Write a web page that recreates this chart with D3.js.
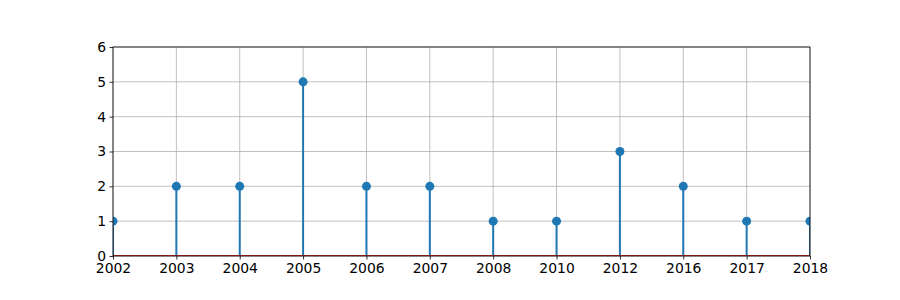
<!DOCTYPE html>
<html>
<head>
<meta charset="utf-8">
<script src="https://cdn.jsdelivr.net/npm/d3@7"></script>
<style>
body { margin: 0; background: #fff; }
text { font-family: "DejaVu Sans", sans-serif; }
</style>
</head>
<body>
<script>
var years = ["2002", "2003", "2004", "2005", "2006", "2007", "2008", "2010", "2012", "2016", "2017", "2018"];
var counts = [1, 2, 2, 5, 2, 2, 1, 1, 3, 2, 1, 1];
var yTicks = [0, 1, 2, 3, 4, 5, 6];

var w = 900, h = 300;
var padLeft = 113, padRight = 810, padTop = 47, padBottom = 256;

var svg = d3.select("body").append("svg")
  .attr("width", w)
  .attr("height", h);

var x = d3.scaleLinear().domain([0, years.length - 1]).range([padLeft, padRight]);
var y = d3.scaleLinear().domain([0, 6]).range([padBottom, padTop]);

svg.append("clipPath").attr("id", "plotclip")
  .append("rect")
  .attr("x", padLeft).attr("y", padTop)
  .attr("width", padRight - padLeft).attr("height", padBottom - padTop);

// grid
var grid = svg.append("g");
grid.selectAll("line.gx")
  .data(years)
  .enter().append("line")
  .attr("class", "gx")
  .attr("x1", function(d, i) { return x(i); })
  .attr("x2", function(d, i) { return x(i); })
  .attr("y1", padTop).attr("y2", padBottom)
  .attr("stroke", "#b0b0b0").attr("stroke-width", 0.8);
grid.selectAll("line.gy")
  .data(yTicks)
  .enter().append("line")
  .attr("class", "gy")
  .attr("x1", padLeft).attr("x2", padRight)
  .attr("y1", function(d) { return y(d); })
  .attr("y2", function(d) { return y(d); })
  .attr("stroke", "#b0b0b0").attr("stroke-width", 0.8);

var plot = svg.append("g").attr("clip-path", "url(#plotclip)");

// stems
plot.selectAll("line.stem")
  .data(counts)
  .enter().append("line")
  .attr("class", "stem")
  .attr("x1", function(d, i) { return x(i); })
  .attr("x2", function(d, i) { return x(i); })
  .attr("y1", y(0))
  .attr("y2", function(d) { return y(d); })
  .attr("stroke", "#1f77b4").attr("stroke-width", 2);

// baseline
plot.append("line")
  .attr("x1", padLeft).attr("x2", padRight)
  .attr("y1", y(0)).attr("y2", y(0))
  .attr("stroke", "#d62728").attr("stroke-width", 2);

// markers
plot.selectAll("circle")
  .data(counts)
  .enter().append("circle")
  .attr("cx", function(d, i) { return x(i); })
  .attr("cy", function(d) { return y(d); })
  .attr("r", 4.5)
  .attr("fill", "#1f77b4");

// axes
var xAxis = d3.axisBottom(x)
  .tickValues(d3.range(years.length))
  .tickFormat(function(i) { return years[i]; })
  .tickSize(3.5).tickPadding(3.5);
var yAxis = d3.axisLeft(y)
  .tickValues(yTicks)
  .tickFormat(d3.format("d"))
  .tickSize(3.5).tickPadding(3.5);

var gx = svg.append("g").attr("transform", "translate(0," + padBottom + ")").call(xAxis);
var gy = svg.append("g").attr("transform", "translate(" + padLeft + ",0)").call(yAxis);
[gx, gy].forEach(function(g) {
  g.select(".domain").remove();
  g.selectAll(".tick line").attr("stroke", "#000").attr("stroke-width", 0.8);
  g.selectAll(".tick text").attr("fill", "#000")
    .style("font-size", "13.9px")
    .style("font-family", "DejaVu Sans, sans-serif");
});

// frame
svg.append("rect")
  .attr("x", padLeft).attr("y", padTop)
  .attr("width", padRight - padLeft).attr("height", padBottom - padTop)
  .attr("fill", "none").attr("stroke", "#000").attr("stroke-width", 0.8);
</script>
</body>
</html>
